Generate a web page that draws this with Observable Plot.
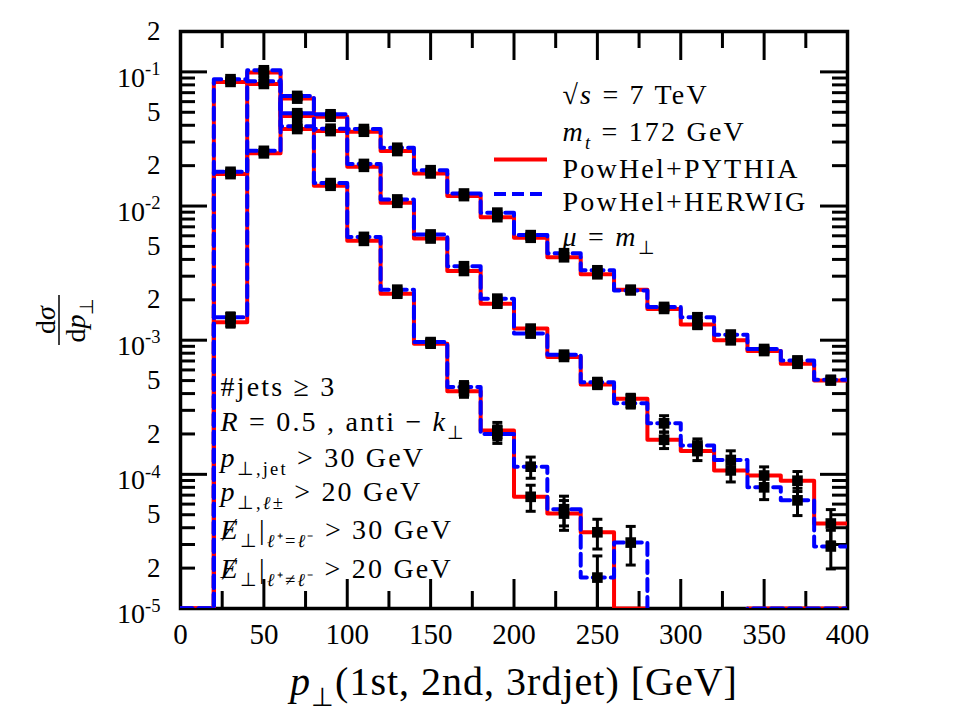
<!DOCTYPE html>
<html><head><meta charset="utf-8">
<script src="https://cdn.jsdelivr.net/npm/d3@7"></script>
<script src="https://cdn.jsdelivr.net/npm/@observablehq/plot@0.6"></script>
<style>
html,body{margin:0;padding:0;background:#fff;}
#chart svg{display:block;}
</style>
</head><body><div id="chart"></div>
<script>
// ---------------- data ----------------
const binEdges = [0,20,40,60,80,100,120,140,160,180,200,220,240,260,280,300,320,340,360,380,400];

// 1st jet
const jet1Pythia = [1e-5,1.36e-3,0.0247,0.0632,0.0463,0.0358,0.0257,0.0175,0.01186,0.00826,0.0058,0.00415,0.0031,0.00238,0.00171,0.00131,0.00100,0.00083,0.000667,0.00050];
const jet1Herwig = [1e-5,1.48e-3,0.0258,0.0662,0.0483,0.0375,0.0272,0.0185,0.0124,0.00893,0.00607,0.00445,0.00332,0.00235,0.00177,0.00148,0.00110,0.00086,0.000706,0.000507];
// 2nd jet
const jet2Pythia = [1e-5,0.0173,0.0988,0.0469,0.0362,0.0196,0.01057,0.00573,0.00328,0.00187,0.00122,0.00075,0.000468,0.000366,0.000181,0.000149,0.000107,0.000098,0.0000897,0.000043];
const jet2Herwig = [1e-5,0.0180,0.1028,0.0492,0.0377,0.0206,0.0112,0.00614,0.00356,0.00204,0.00112,0.00078,0.000486,0.000339,0.00024,0.000164,0.000128,0.00008,0.000064,0.000029];
// 3rd jet
const jet3Pythia = [1e-5,0.0842,0.0813,0.0375,0.01416,0.0055,0.00222,0.000942,0.000417,0.000212,0.000068,0.000051,0.000037,1e-5,5e-6,5e-6,5e-6,1e-5,1e-5,1e-5];
const jet3Herwig = [1e-5,0.0882,0.0852,0.0393,0.01483,0.00589,0.00238,0.000968,0.000447,0.0002,0.000114,0.000055,0.000017,0.000031,5e-6,5e-6,5e-6,1e-5,1e-5,1e-5];

// relative statistical errors
const jet1PythiaErr = [0,.08,.03,.02,.02,.02,.02,.02,.02,.02,.03,.03,.04,.04,.04,.07,.06,.05,.06,.05];
const jet1HerwigErr = [0,.08,.03,.02,.02,.02,.02,.02,.02,.02,.03,.03,.04,.04,.04,.07,.06,.05,.06,.05];
const jet2PythiaErr = [0,.03,.02,.02,.02,.02,.02,.03,.03,.04,.05,.05,.07,.08,.14,.15,.18,.16,.17,.27];
const jet2HerwigErr = [0,.03,.02,.02,.02,.02,.02,.03,.03,.04,.05,.05,.07,.08,.14,.12,.17,.19,.23,.32];
const jet3PythiaErr = [0,.02,.02,.02,.03,.03,.04,.05,.10,.15,.22,.25,.25,0,0,0,0,0,0,0];
const jet3HerwigErr = [0,.02,.02,.02,.03,.03,.04,.05,.10,.15,.18,.25,.45,.32,0,0,0,0,0,0];

// axis ticks / labels
const xTickValues = [0,50,100,150,200,250,300,350,400];
const xMinorValues = [25,75,125,175,225,275,325,375];
const yPowerTicks = [1e-1,1e-2,1e-3,1e-4,1e-5];
const yPowerLabels = ["10^{-1}","10^{-2}","10^{-3}","10^{-4}","10^{-5}"];
const yMantissaTicks = [0.2,0.05,0.02,0.005,0.002,5e-4,2e-4,5e-5,2e-5];
const yMantissaLabels = ["2","5","2","5","2","5","2","5","2"];

const xLabel = "$p$_{⊥}(1st, 2nd, 3rdjet) [GeV]";
const yLabelNum = "d$σ$";
const yLabelDen = "d$p$_{⊥}";
const infoRight = ["√$s$ = 7 TeV", "$m$_{$t$} = 172 GeV", "PowHel+PYTHIA", "PowHel+HERWIG", "$μ$ = $m$_{⊥}"];
const infoLeft = ["#jets ≥ 3", "$R$ = 0.5 , anti − $k$_{⊥}", "$p$_{⊥,jet} > 30 GeV", "$p$_{⊥,$ℓ$±} > 20 GeV",
  "$Ɇ$_{⊥}|_{$ℓ$⁺=$ℓ$⁻} > 30 GeV", "$Ɇ$_{⊥}|_{$ℓ$⁺≠$ℓ$⁻} > 20 GeV"];

// ---------------- layout ----------------
const W = 954, H = 723;
const mL = 180, mR = 107, mT = 31, mB = 115;
const frameW = W - mL - mR, frameH = H - mT - mB;
const FONT = "'Liberation Serif','Times New Roman',serif";
const RED = "#ff0000", BLUE = "#0000ff";
const DASH = "12,6";

const series = [
  {p: jet1Pythia, h: jet1Herwig, pe: jet1PythiaErr, he: jet1HerwigErr},
  {p: jet2Pythia, h: jet2Herwig, pe: jet2PythiaErr, he: jet2HerwigErr},
  {p: jet3Pythia, h: jet3Herwig, pe: jet3PythiaErr, he: jet3HerwigErr}
];
const steps = (vals) => binEdges.map((x, i) => ({x, y: vals[Math.min(i, vals.length - 1)]}));
const pts = (vals, errs) => vals.map((v, i) => ({x: (binEdges[i] + binEdges[i + 1]) / 2, y: v, lo: v * (1 - errs[i]), hi: v * (1 + errs[i])}))
  .filter(d => d.y > 1.1e-5);
const allPts = series.flatMap(s => [...pts(s.p, s.pe), ...pts(s.h, s.he)]);

const yMinor = d3.scaleLog().domain([1e-5, 0.2]).ticks().filter(v => !yPowerTicks.some(p => Math.abs(v / p - 1) < 1e-6));
const hline = {draw(ctx, size) { const r = Math.sqrt(size / Math.PI); ctx.moveTo(-r, 0); ctx.lineTo(r, 0); }};
const tick = {stroke: "black", strokeWidth: 3};

const marks = [
  Plot.frame({stroke: "black", strokeWidth: 3.5}),
  // inward ticks on all four sides
  Plot.tickX(xTickValues, {x: d => d, insetTop: frameH - 29, ...tick}),
  Plot.tickX(xMinorValues, {x: d => d, insetTop: frameH - 17, ...tick}),
  Plot.tickX(xTickValues, {x: d => d, insetBottom: frameH - 29, ...tick}),
  Plot.tickX(xMinorValues, {x: d => d, insetBottom: frameH - 17, ...tick}),
  Plot.tickY(yPowerTicks, {y: d => d, insetRight: frameW - 27, ...tick}),
  Plot.tickY(yMinor, {y: d => d, insetRight: frameW - 15, ...tick}),
  Plot.tickY(yPowerTicks, {y: d => d, insetLeft: frameW - 27, ...tick}),
  Plot.tickY(yMinor, {y: d => d, insetLeft: frameW - 15, ...tick}),
  // tick labels
  Plot.text(xTickValues, {x: d => d, text: d => String(d), frameAnchor: "bottom", dy: 35, fontSize: 29}),
  Plot.text(yMantissaTicks, {y: d => d, text: (d, i) => yMantissaLabels[i], frameAnchor: "left", textAnchor: "end", dx: -20, fontSize: 27}),
  Plot.text(yPowerTicks, {y: d => d, text: (d, i) => yPowerLabels[i], frameAnchor: "left", textAnchor: "end", dx: -20, dy: 6, fontSize: 28}),
  // histograms
  ...series.map(s => Plot.line(steps(s.p), {x: "x", y: "y", curve: "step-after", stroke: RED, strokeWidth: 4, clip: true})),
  ...series.map(s => Plot.line(steps(s.h), {x: "x", y: "y", curve: "step-after", stroke: BLUE, strokeWidth: 4, strokeDasharray: DASH, clip: true})),
  // error bars and markers
  Plot.ruleX(allPts, {x: "x", y1: "lo", y2: "hi", stroke: "black", strokeWidth: 3, clip: true}),
  Plot.dot(allPts, {x: "x", y: "lo", symbol: hline, r: 5, fill: "none", stroke: "black", strokeWidth: 3, clip: true}),
  Plot.dot(allPts, {x: "x", y: "hi", symbol: hline, r: 5, fill: "none", stroke: "black", strokeWidth: 3, clip: true}),
  Plot.dot(allPts, {x: "x", y: "y", symbol: "square", r: 6, fill: "black", stroke: "none", clip: true}),
  // annotations
  ...infoRight.map((t, i) => Plot.text([t], {text: d => d, frameAnchor: "top-left", dx: 382, dy: [53, 90, 127, 160, 195][i], textAnchor: "start", fontSize: 28, ariaDescription: "note"})),
  ...infoLeft.map((t, i) => Plot.text([t], {text: d => d, frameAnchor: "top-left", dx: 40, dy: [345, 380, 416, 450, 488, 527][i], textAnchor: "start", fontSize: 28, ariaDescription: "note"})),
  Plot.text([xLabel], {text: d => d, frameAnchor: "bottom", dy: 86, fontSize: 40, ariaDescription: "xlabel"})
];

const plot = Plot.plot({
  width: W, height: H,
  marginLeft: mL, marginRight: mR, marginTop: mT, marginBottom: mB,
  x: {domain: [0, 400], axis: null},
  y: {type: "log", domain: [1e-5, 0.2], axis: null},
  style: {fontFamily: FONT, fontSize: "28px", background: "white", color: "black"},
  marks
});
document.getElementById("chart").append(plot);

// ---------- convert simple math markup into tspans ----------
const SVGNS = "http://www.w3.org/2000/svg";
function renderMarkup(el, s) {
  const base = parseFloat(getComputedStyle(el).fontSize) || 28;
  const segs = []; let italic = false, mode = 0, buf = "";
  const flush = () => { if (buf) segs.push({t: buf, italic, mode}); buf = ""; };
  for (let i = 0; i < s.length; i++) {
    const c = s[i];
    if (c === "$") { flush(); italic = !italic; }
    else if ((c === "_" || c === "^") && s[i + 1] === "{") { flush(); mode = c === "_" ? 1 : -1; i++; }
    else if (c === "}" && mode !== 0) { flush(); mode = 0; }
    else buf += c;
  }
  flush();
  el.textContent = "";
  let cur = 0;
  for (const g of segs) {
    const target = g.mode === 1 ? base * 0.28 : g.mode === -1 ? -base * 0.42 : 0;
    const ts = document.createElementNS(SVGNS, "tspan");
    if (target !== cur) ts.setAttribute("dy", (target - cur).toFixed(2));
    cur = target;
    if (g.mode) ts.setAttribute("font-size", (base * 0.66).toFixed(1));
    if (g.italic) ts.setAttribute("font-style", "italic");
    ts.textContent = g.t;
    el.appendChild(ts);
  }
}

const svg = d3.select(plot);
svg.selectAll('g[aria-description="note"]').attr("letter-spacing", "2.2px");
svg.selectAll('g[aria-description="xlabel"]').attr("letter-spacing", "1px");

// rotated fraction for the y label
const ylab = svg.append("g").attr("font-size", 28).attr("text-anchor", "middle");
ylab.append("text").attr("transform", "translate(46,320) rotate(-90)").attr("dy", "0.32em").text(yLabelNum);
ylab.append("text").attr("transform", "translate(76,320) rotate(-90)").attr("dy", "0.32em").text(yLabelDen);
ylab.append("line").attr("x1", 59).attr("x2", 59).attr("y1", 295).attr("y2", 345).attr("stroke", "black").attr("stroke-width", 1.5);

svg.selectAll("text").each(function () {
  const s = this.textContent;
  if (/[_^]\{|\$/.test(s)) renderMarkup(this, s);
});

// legend swatches
svg.append("line").attr("x1", 494).attr("x2", 547).attr("y1", 159.5).attr("y2", 159.5).attr("stroke", RED).attr("stroke-width", 4);
svg.append("line").attr("x1", 494).attr("x2", 547).attr("y1", 194).attr("y2", 194).attr("stroke", BLUE).attr("stroke-width", 4).attr("stroke-dasharray", DASH);
</script>
</body></html>
